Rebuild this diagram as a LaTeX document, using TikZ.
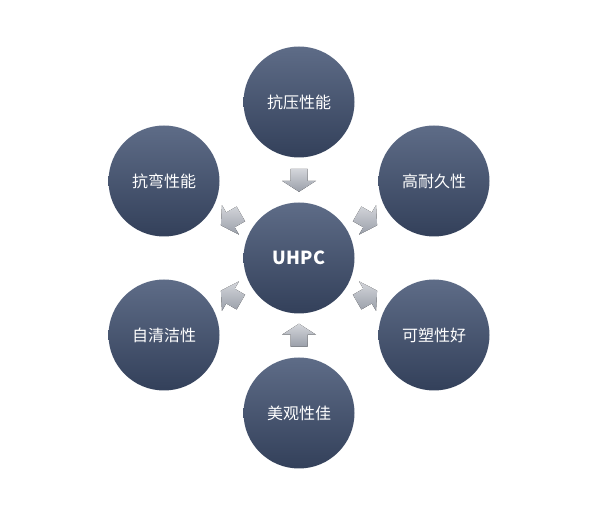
\documentclass[tikz,border=0pt]{standalone}
\usepackage{fontspec}
\newfontfamily\cjk{Noto Sans CJK SC}
\begin{document}
\begin{tikzpicture}[x=1pt,y=-1pt,
  circ/.style={circle,minimum size=111pt,inner sep=0pt,top color=cTop,bottom color=cBot,draw=none,text=white,font=\cjk\fontsize{16}{18}\selectfont},
  arr/.style={top color=aTop,bottom color=aBot,draw=none}]
\definecolor{cTop}{HTML}{5E6C87}
\definecolor{cBot}{HTML}{33405A}
\definecolor{aTop}{HTML}{D4D6DB}
\definecolor{aBot}{HTML}{9A9FA9}
\useasboundingbox (0,0) rectangle (600,518);
\node[circ,font=\cjk\bfseries\fontsize{18}{20}\selectfont] (c) at (299,258) {UHPC};
\node[circ] (n1) at (299,102) {抗压性能};
\node[circ] (n2) at (434,181) {高耐久性};
\node[circ] (n3) at (434,335) {可塑性好};
\node[circ] (n4) at (299,413) {美观性佳};
\node[circ] (n5) at (164,335) {自清洁性};
\node[circ] (n6) at (164,181) {抗弯性能};
\foreach \n/\a in {n1/90,n2/30,n3/-30,n4/-90,n5/-150,n6/150}{
  \path (c) -- (\n) coordinate[pos=0.505] (m-\n);
  \fill[arr,shift={(m-\n)},rotate=-\a] (-11,-8.5) -- (1,-8.5) -- (1,-17) -- (12,0) -- (1,17) -- (1,8.5) -- (-11,8.5) -- cycle;
}
\end{tikzpicture}
\end{document}
